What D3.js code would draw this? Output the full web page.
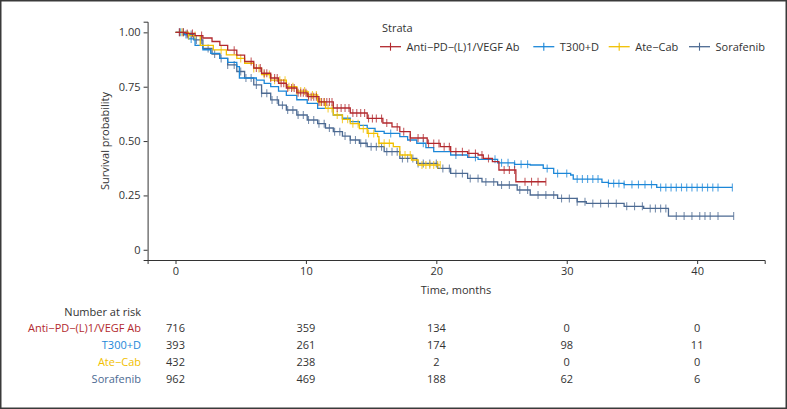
<!DOCTYPE html>
<html><head><meta charset="utf-8">
<script src="https://cdn.jsdelivr.net/npm/d3@7"></script>
<style>
html,body{margin:0;padding:0;background:#fff;}
svg{display:block;font-family:"Open Sans","Noto Sans",sans-serif;}
</style></head>
<body>
<script>
// ---------- data ----------
const strata = ["Anti\u2212PD\u2212(L)1/VEGF Ab", "T300+D", "Ate\u2212Cab", "Sorafenib"];
const colors = ["#B2292E", "#1C87D8", "#F1C000", "#4C6A92"];

// KM step points [time, survival]
const survAnti = [[0,1],[0.8,0.995],[1.5,0.985],[2.1,0.974],[2.8,0.958],[3.4,0.94],[4.0,0.918],[4.7,0.895],[5.3,0.866],[6.0,0.836],[6.6,0.812],[7.3,0.79],[7.9,0.766],[8.5,0.744],[9.3,0.722],[10.1,0.704],[11.0,0.68],[12.1,0.652],[13.4,0.629],[14.7,0.604],[15.9,0.583],[16.6,0.565],[17.2,0.543],[18.0,0.514],[19.3,0.489],[20.3,0.474],[21.1,0.451],[22.4,0.443],[23.2,0.436],[23.6,0.42],[24.3,0.405],[24.8,0.367],[26.1,0.313],[28.4,0.313]];
const survT300 = [[0,1],[0.6,0.99],[1.0,0.97],[1.5,0.94],[2.1,0.92],[2.7,0.903],[3.4,0.88],[4.0,0.862],[4.7,0.842],[4.9,0.79],[6.2,0.78],[6.8,0.765],[7.3,0.75],[7.9,0.73],[8.5,0.71],[9.3,0.69],[10.1,0.673],[10.9,0.65],[12.1,0.62],[12.8,0.605],[13.4,0.589],[14.1,0.572],[14.7,0.558],[15.3,0.545],[16.0,0.535],[17.2,0.52],[17.8,0.505],[18.5,0.49],[19.2,0.47],[19.8,0.451],[21.1,0.436],[22.4,0.425],[23.2,0.416],[24.7,0.40],[26.0,0.393],[27.2,0.39],[28.2,0.374],[29.0,0.351],[30.3,0.344],[30.5,0.325],[32.7,0.31],[33.2,0.305],[34.4,0.30],[36.9,0.287],[42.7,0.287]];
const survAteCab = [[0,1],[1.0,0.985],[1.9,0.94],[2.9,0.919],[3.9,0.896],[4.7,0.88],[5.3,0.858],[6.0,0.834],[6.6,0.806],[7.3,0.78],[8.5,0.75],[9.3,0.73],[10.1,0.712],[10.9,0.68],[11.5,0.65],[12.1,0.62],[12.8,0.60],[13.4,0.58],[14.1,0.557],[14.7,0.535],[15.5,0.52],[15.6,0.49],[16.7,0.474],[17.2,0.436],[18.1,0.413],[18.6,0.39],[20.3,0.39]];
const survSora = [[0,1],[0.7,0.99],[1.4,0.965],[2.1,0.926],[2.8,0.9],[3.4,0.88],[4.0,0.85],[4.7,0.82],[5.3,0.79],[6.0,0.758],[6.6,0.72],[7.3,0.689],[7.9,0.665],[8.5,0.643],[9.3,0.62],[10.1,0.597],[10.9,0.58],[11.5,0.56],[12.1,0.543],[12.8,0.523],[13.4,0.505],[14.1,0.49],[14.7,0.474],[16.0,0.451],[17.2,0.42],[18.5,0.397],[20.1,0.374],[21.1,0.351],[22.4,0.328],[23.5,0.312],[24.7,0.298],[26.2,0.275],[27.2,0.252],[29.3,0.236],[30.8,0.221],[31.5,0.213],[34.4,0.20],[35.9,0.19],[37.8,0.155],[42.8,0.155]];

// censoring times
const censAnti = [0.3,0.6,0.9,1.3,2.0,4.5,5.8,6.2,6.5,6.8,7.0,7.3,7.6,7.8,8.1,8.3,8.6,8.9,9.1,9.4,9.6,9.8,10.0,10.2,10.4,10.6,10.8,11.0,11.2,11.4,11.6,11.8,12.0,12.4,12.7,13.0,13.3,13.6,13.9,14.2,14.5,14.8,15.1,15.4,15.8,16.2,17.0,17.5,18.0,18.6,19.0,19.4,19.8,20.2,20.6,21.0,21.5,22.0,22.5,23.0,23.5,24.0,25.2,25.6,26.0,26.8,27.3,27.8,28.4];
const censT300 = [0.4,0.8,1.2,16.5,19.0,21.5,23.0,24.5,25.0,25.5,26.0,26.5,27.0,28.5,29.3,30.0,30.8,31.2,31.6,32.0,32.4,33.2,33.6,34.0,34.4,35.0,35.5,36.0,36.5,37.2,37.6,38.0,38.4,38.8,39.2,39.6,40.0,40.4,40.8,41.2,41.6,42.7];
const censAteCab = [0.5,1.0,1.5,3.5,5.0,6.0,6.4,6.8,7.2,7.6,8.0,8.4,8.7,9.0,9.3,9.6,9.9,10.2,10.5,10.8,11.1,11.4,11.7,12.0,12.4,12.8,13.2,13.6,14.0,14.4,14.8,15.2,15.6,16.0,16.4,17.6,18.0,18.9,19.2,19.5,19.8,20.1,20.3];
const censSora = [0.3,0.6,0.9,1.2,1.6,2.0,2.5,3.0,3.5,4.0,4.5,5.0,5.4,5.8,6.2,6.6,7.0,7.4,7.8,8.2,8.6,9.0,9.4,9.8,10.2,10.6,11.0,11.4,11.8,12.2,12.6,13.0,13.4,13.8,14.2,14.6,15.0,15.4,15.8,16.2,16.6,17.0,17.4,17.8,18.2,18.6,19.0,19.5,20.0,20.5,21.0,21.5,22.0,22.6,23.2,23.8,24.4,25.0,25.6,26.4,27.0,27.8,28.4,29.0,29.6,30.2,30.8,31.4,32.0,32.6,33.2,33.8,34.6,35.2,35.8,36.4,36.8,37.2,37.6,38.4,39.0,39.6,40.2,40.6,41.0,41.6,42.8];

const xTicks = [0,10,20,30,40];
const yTicks = [0,0.25,0.5,0.75,1];
const yTickLabels = ["0","0.25","0.50","0.75","1.00"];
const riskTimes = [0,10,20,30,40];
const riskAnti = [716,359,134,0,0];
const riskT300 = [393,261,174,98,11];
const riskAteCab = [432,238,2,0,0];
const riskSora = [962,469,188,62,6];

const survs = [survAnti, survT300, survAteCab, survSora];
const cens = [censAnti, censT300, censAteCab, censSora];
const risks = [riskAnti, riskT300, riskAteCab, riskSora];

// ---------- layout ----------
const W = 787, H = 409;
const svg = d3.select("body").append("svg").attr("width", W).attr("height", H);
svg.append("rect").attr("x",0.75).attr("y",0.75).attr("width",W-1.5).attr("height",H-1.5)
  .attr("fill","#fff").attr("stroke","#3a3a3a").attr("stroke-width",1.5);

const x = d3.scaleLinear().domain([-2.14, 45.18]).range([147.6, 764.7]);
const y = d3.scaleLinear().domain([-0.047, 1.049]).range([260, 21.7]);
const txt = "#333";

// axes
const gx = svg.append("g").attr("transform","translate(0,260)")
  .call(d3.axisBottom(x).tickValues(xTicks).tickSize(4).tickPadding(3).tickFormat(d3.format("d")));
const gy = svg.append("g").attr("transform","translate(147.6,0)")
  .call(d3.axisLeft(y).tickValues(yTicks).tickSize(4).tickPadding(3).tickFormat((d,i)=>yTickLabels[i]));
[gx,gy].forEach(g=>{
  g.select(".domain").attr("stroke",txt).attr("stroke-width",1);
  g.selectAll(".tick line").attr("stroke",txt);
  g.selectAll(".tick text").attr("fill",txt).style("font-size","11px").style("font-family","'Open Sans',sans-serif");
});

svg.append("text").attr("x",456).attr("y",294).attr("text-anchor","middle")
  .attr("fill",txt).style("font-size","11px").text("Time, months");
svg.append("text").attr("transform","translate(109,141) rotate(-90)").attr("text-anchor","middle")
  .attr("fill",txt).style("font-size","11px").text("Survival probability");

// curves
const line = d3.line().x(d=>x(d[0])).y(d=>y(d[1])).curve(d3.curveStepAfter);
function survAt(s, t){ let v = s[0][1]; for (const p of s){ if (p[0] <= t) v = p[1]; else break; } return v; }

const order = [3,1,2,0];
order.forEach(i=>{
  const g = svg.append("g");
  g.append("path").datum(survs[i]).attr("d",line).attr("fill","none")
    .attr("stroke",colors[i]).attr("stroke-width",1.3);
  g.selectAll("line.c").data(cens[i]).join("line")
    .attr("x1",d=>x(d)).attr("x2",d=>x(d))
    .attr("y1",d=>y(survAt(survs[i],d))-4).attr("y2",d=>y(survAt(survs[i],d))+4)
    .attr("stroke",colors[i]).attr("stroke-width",1.1).attr("stroke-opacity",0.75);
});

// legend
svg.append("text").attr("x",382).attr("y",32).attr("fill",txt).style("font-size","11px").text("Strata");
const legX = [380, 533.3, 608.7, 689];
strata.forEach((s,i)=>{
  const g = svg.append("g").attr("transform",`translate(${legX[i]},46.7)`);
  g.append("line").attr("x1",0).attr("x2",21).attr("y1",0).attr("y2",0).attr("stroke",colors[i]).attr("stroke-width",1.3);
  g.append("line").attr("x1",10.5).attr("x2",10.5).attr("y1",-4).attr("y2",4).attr("stroke",colors[i]).attr("stroke-width",1.1);
  g.append("text").attr("x",26.5).attr("y",4).attr("fill",txt).style("font-size","11px").text(s);
});

// risk table
svg.append("text").attr("x",141).attr("y",316).attr("text-anchor","end").attr("fill",txt)
  .style("font-size","11px").text("Number at risk");
const rowY = [332.3, 349.3, 366.3, 383.3];
strata.forEach((s,i)=>{
  svg.append("text").attr("x",141).attr("y",rowY[i]).attr("text-anchor","end").attr("fill",colors[i])
    .style("font-size","11px").text(s);
  svg.selectAll(null).data(risks[i]).join("text")
    .attr("x",(d,j)=>x(riskTimes[j])).attr("y",rowY[i]).attr("text-anchor","middle")
    .attr("fill",txt).style("font-size","11px").text(d=>d);
});
</script>
</body></html>
